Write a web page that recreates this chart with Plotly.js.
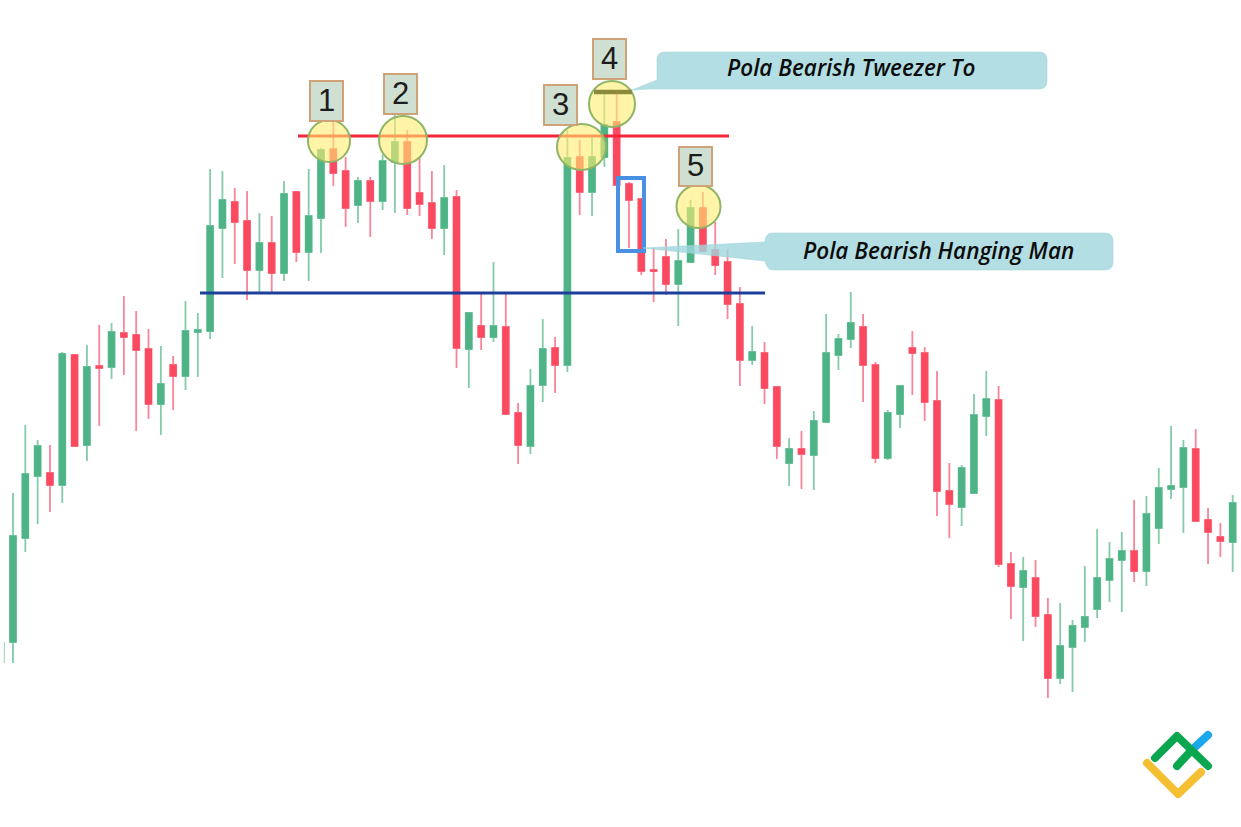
<!DOCTYPE html>
<html><head><meta charset="utf-8">
<script src="https://cdn.plot.ly/plotly-3.0.1.min.js"></script>
<style>html,body{margin:0;padding:0;background:#fff}#c{width:1241px;height:827px}</style>
</head><body><div id="c"></div>
<script>
// Candle slot numbers 0..99
const slots = Array.from({length:100},(_,k)=>k);
const openP = [185,289,351,354,342,472,382,461,460,494,492,478,423,462,451,495,496,599,625,606,
557,584,554,635,575,609,678,656,622,646,626,665,685,634,624,599,630,478,501,490,
500,414,381,442,479,462,670,635,670,705,643,628,557,570,543,565,619,577,565,523,
467,474,440,364,378,372,405,472,488,500,462,369,413,479,474,426,336,320,334,411,
427,263,240,249,212,149,180,200,218,247,267,276,256,299,338,340,378,307,290,285];
const highP = [334,402,387,382,475,473,482,502,504,531,516,498,481,471,526,514,658,656,639,636,
614,611,646,635,658,679,710,670,650,650,672,722,697,670,656,662,637,515,534,565,
534,424,458,508,490,697,687,690,734,734,645,629,579,588,598,627,635,605,578,540,
501,485,440,389,396,416,513,493,535,513,465,417,442,496,480,456,364,362,433,456,
441,275,270,267,229,224,207,261,298,285,295,327,331,359,401,387,398,319,304,332];
const lowP = [164,275,303,315,324,380,366,401,448,452,396,408,392,417,437,450,488,549,563,527,
535,534,546,565,546,574,641,600,604,590,617,614,612,611,588,572,459,439,477,485,
412,363,373,425,434,455,612,611,660,641,579,552,525,532,501,565,576,552,508,441,
462,423,368,341,338,337,405,457,479,425,364,367,399,432,406,311,289,301,334,391,
260,208,186,200,129,143,135,185,209,225,215,245,241,283,328,294,305,263,270,255];
const closeP = [291,353,381,342,473,381,460,459,495,490,477,423,443,451,496,497,601,627,605,557,
584,554,633,575,611,677,654,619,646,626,666,685,619,623,599,629,479,514,490,501,
413,382,441,478,462,669,635,670,702,642,627,556,556,543,566,619,576,562,523,467,
475,439,381,378,373,406,474,488,504,462,369,414,441,474,425,336,323,359,412,428,
263,241,256,211,149,181,201,210,249,268,276,256,313,339,341,379,306,295,286,324];
// Cut-off wick at the left edge
const edgeX = [-0.7,-0.7];
const edgeY = [185,164];

const labels = ["1","2","3","4","5"];
const calloutTexts = ["Pola Bearish Tweezer To","Pola Bearish Hanging Man"];
const resistanceLevel = 691;
const supportLevel = 534;

const X=p=>p/1241, Y=p=>1-p/827;
// x axis: slot -> page pixel via range below
const sp=12.32, x0=13;
const toX=p=>(p-x0)/sp, toY=p=>827-p;
const path=(d)=>d.replace(/(-?[\d.]+),(-?[\d.]+)/g,(m,a,b)=>toX(+a).toFixed(3)+','+toY(+b));

const shapes=[];
const line=(x1,y1,x2,y2,c,w)=>shapes.push({type:'line',xref:'paper',yref:'paper',x0:X(x1),y0:Y(y1),x1:X(x2),y1:Y(y2),line:{color:c,width:w},layer:'above'});
// Levels
shapes.push({type:'line',xref:'paper',yref:'y',x0:X(298),x1:X(729),y0:resistanceLevel,y1:resistanceLevel,line:{color:'#f6263a',width:3},layer:'above'});
shapes.push({type:'line',xref:'paper',yref:'y',x0:X(200),x1:X(765),y0:supportLevel,y1:supportLevel,line:{color:'#1c3f9c',width:3},layer:'above'});
// Blue rectangle
shapes.push({type:'rect',xref:'paper',yref:'paper',x0:X(618),x1:X(644),y0:Y(178),y1:Y(251),line:{color:'#4a90e2',width:4},layer:'above'});
// Callouts
const fillC='rgba(160,214,220,0.8)';
shapes.push({type:'path',layer:'above',fillcolor:fillC,line:{color:'rgba(160,214,220,0.55)',width:1},
 path:path('M 632,90 L 657,80 L 657,60 Q 657,52 665,52 L 1039,52 Q 1047,52 1047,60 L 1047,81 Q 1047,89 1039,89 L 650,89 Z')});
shapes.push({type:'path',layer:'above',fillcolor:fillC,line:{color:'rgba(160,214,220,0.55)',width:1},
 path:path('M 643,248 L 765,242 Q 765,233 773,233 L 1105,233 Q 1113,233 1113,241 L 1113,262 Q 1113,270 1105,270 L 773,270 Q 767,270 765,261 Z')});
// Circles
[[329,141,21,21],[403,140,24,24],[581.5,147,24.5,23],[612,104,23,23],[698.5,206.5,22,21.5]].forEach(c=>{
 shapes.push({type:'circle',xref:'paper',yref:'paper',layer:'above',x0:X(c[0]-c[2]),x1:X(c[0]+c[2]),y0:Y(c[1]-c[3]),y1:Y(c[1]+c[3]),
  fillcolor:'rgba(255,236,110,0.6)',line:{color:'#8fb565',width:2}});
});
// Bar in circle 4
line(594,92,632,92,'#8b8a3c',4.5);
// Number boxes
const boxes=[[310,81,343,121],[384,74,417,114],[544,85,577,125],[593,39,626,79],[679,147,712,186]];
boxes.forEach(b=>shapes.push({type:'rect',xref:'paper',yref:'paper',layer:'above',x0:X(b[0]),x1:X(b[2]),y0:Y(b[1]),y1:Y(b[3]),
  fillcolor:'#cfe0d2',line:{color:'#d0a277',width:2}}));
// Logo
const logo=(d,c)=>shapes.push({type:'path',layer:'above',fillcolor:'rgba(0,0,0,0)',line:{color:c,width:8},path:path(d),name:'logo'});
logo('M 1194,748 L 1208,735','#1aa7ec');
logo('M 1155,758 L 1177,736 L 1208,766','#0aa650');
logo('M 1177,766 L 1190,752','#0aa650');
logo('M 1147,763 L 1178,794 L 1201,772','#f4bf30');

const annotations=boxes.map((b,i)=>({xref:'paper',yref:'paper',x:X((b[0]+b[2])/2),y:Y((b[1]+b[3])/2-1),text:labels[i],showarrow:false,
  font:{family:'Liberation Sans',size:31,color:'#1c1c1c'},xanchor:'center',yanchor:'middle'}));
const calloutFont={family:'Open Sans',size:22.5,weight:600,style:'italic',color:'#0c0c0c'};
annotations.push({xref:'paper',yref:'paper',x:X(850.5),y:Y(68),text:calloutTexts[0],showarrow:false,font:calloutFont,xanchor:'center',yanchor:'middle'});
annotations.push({xref:'paper',yref:'paper',x:X(938),y:Y(250),text:calloutTexts[1],showarrow:false,font:calloutFont,xanchor:'center',yanchor:'middle'});

const data=[
 {type:'scatter',mode:'lines',x:edgeX,y:edgeY,line:{color:'#a8dcc4',width:1.2},hoverinfo:'skip',showlegend:false},
 // Wicks
 {type:'candlestick',x:slots,open:openP,high:highP,low:lowP,close:closeP,width:0.4,whiskerwidth:0,
  increasing:{line:{color:'#84cba9',width:1.8},fillcolor:'#84cba9'},
  decreasing:{line:{color:'#f98598',width:1.8},fillcolor:'#f98598'},showlegend:false},
 // Solid bodies over the wicks
 {type:'candlestick',x:slots,open:openP,close:closeP,
  high:openP.map((o,k)=>Math.max(o,closeP[k])),low:openP.map((o,k)=>Math.min(o,closeP[k])),width:0.49,whiskerwidth:0,
  increasing:{line:{color:'#4eb487',width:1},fillcolor:'#4eb487'},
  decreasing:{line:{color:'#fb4a60',width:1},fillcolor:'#fb4a60'},showlegend:false}
];
const layout={width:1241,height:827,margin:{l:0,r:0,t:0,b:0},paper_bgcolor:'#fff',plot_bgcolor:'#fff',showlegend:false,
 xaxis:{range:[toX(0),toX(1241)],visible:false,rangeslider:{visible:false},fixedrange:true},
 yaxis:{range:[0,827],visible:false,fixedrange:true},shapes,annotations,dragmode:false};
Plotly.newPlot('c',data,layout,{staticPlot:true,displayModeBar:false}).then(()=>{
 document.querySelectorAll('.shapelayer path').forEach(p=>{
   if(parseFloat(p.style.strokeWidth)===8){p.style.strokeLinecap='round';p.style.strokeLinejoin='round';}
 });
});
</script></body></html>
